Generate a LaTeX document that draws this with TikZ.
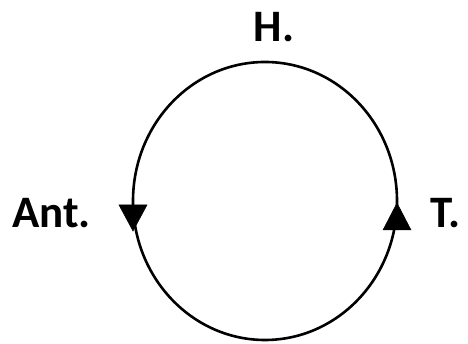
\documentclass[tikz,border=0pt]{standalone}
\usepackage{fontspec}
\setmainfont{Carlito}
\begin{document}
\begin{tikzpicture}[x=1pt,y=1pt,
  lbl/.style={font=\bfseries\fontsize{45}{45}\selectfont, inner sep=0pt},
  loop/.style={line width=2.6pt, black},
  tri/.style={fill=black, draw=black, line width=0.5pt, line join=miter}]
\useasboundingbox (0,0) rectangle (468,344);
% cycle
\draw[loop] (265,143) ellipse [x radius=132, y radius=139];
% arrowheads
\coordinate (la) at (133,113);
\coordinate (ra) at (397,141);
\filldraw[tri] (la) -- ++(-14,26) -- ++(28,0) -- cycle;
\filldraw[tri] (ra) -- ++(-14,-27) -- ++(28,0) -- cycle;
% labels
\node[lbl, anchor=base] (h) at (274,302) {H.};
\node[lbl, anchor=base west] (ant) at (12,116) {Ant.};
\node[lbl, anchor=base west] (t) at (430,116) {T.};
\end{tikzpicture}
\end{document}
